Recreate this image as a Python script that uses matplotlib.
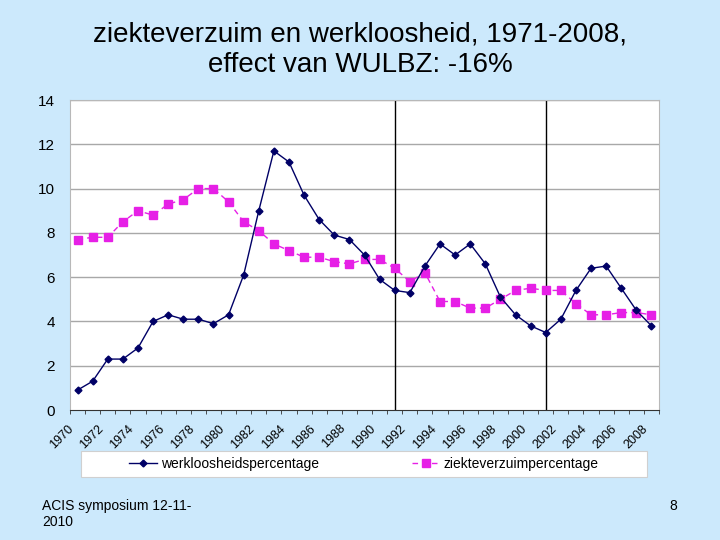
import matplotlib
matplotlib.use("Agg")
import matplotlib.pyplot as plt
from matplotlib.patches import Rectangle
from matplotlib.transforms import ScaledTranslation

plt.rcParams['font.family'] = ['Liberation Sans', 'DejaVu Sans']

#data (1970-2008)
years = list(range(1970, 2009))
werkloosheid = [0.9, 1.3, 2.3, 2.3, 2.8, 4.0, 4.3, 4.1, 4.1, 3.9,
                4.3, 6.1, 9.0, 11.7, 11.2, 9.7, 8.6, 7.9, 7.7, 7.0,
                5.9, 5.4, 5.3, 6.5, 7.5, 7.0, 7.5, 6.6, 5.1, 4.3,
                3.8, 3.5, 4.1, 5.4, 6.4, 6.5, 5.5, 4.5, 3.8]
ziekteverzuim = [7.7, 7.8, 7.8, 8.5, 9.0, 8.8, 9.3, 9.5, 10.0, 10.0,
                 9.4, 8.5, 8.1, 7.5, 7.2, 6.9, 6.9, 6.7, 6.6, 6.8,
                 6.8, 6.4, 5.8, 6.2, 4.9, 4.9, 4.6, 4.6, 5.0, 5.4,
                 5.5, 5.4, 5.4, 4.8, 4.3, 4.3, 4.4, 4.4, 4.3]
marker_years = [1991, 2001]
tick_years = list(range(1970, 2009, 2))

bg = "#cce9fc"
fig = plt.figure(figsize=(7.2, 5.4), dpi=100, facecolor=bg)
ax = fig.add_axes([70/720, 1-410/540, 589/720, 310/540])
ax.set_facecolor("white")

#grid and vertical marker lines
for y in range(2, 15, 2):
    ax.axhline(y, color="#a8a8a8", lw=1, zorder=1)
for yr in marker_years:
    ax.axvline(yr, color="black", lw=1, zorder=2)

ax.plot(years, werkloosheid, color="#000066", lw=1, marker="D",
        markersize=3.5, label="werkloosheidspercentage", zorder=4)
ax.plot(years, ziekteverzuim, color="#e620e6", lw=1, ls=(0, (4, 3)),
        marker="s", markersize=5.5, label="ziekteverzuimpercentage", zorder=3)

ax.set_xlim(1969.5, 2008.45)
ax.set_ylim(0, 14)
ax.set_yticks(range(0, 15, 2))
ax.tick_params(axis="y", length=0, pad=11, labelsize=11)
ax.set_xticks(tick_years)
ax.set_xticklabels([str(t) for t in tick_years], rotation=45, ha="right",
                   rotation_mode="anchor", fontsize=9)
ax.tick_params(axis="x", length=0, pad=9)
#excel puts the labels a little left of the category
shift = ScaledTranslation(-10/100, 0, fig.dpi_scale_trans)
for lbl in ax.get_xticklabels():
    lbl.set_transform(lbl.get_transform() + shift)
ax.set_xticks([y + 0.5 for y in range(1969, 2009)], minor=True)
ax.tick_params(axis="x", which="minor", length=3, color="#333333")

for side in ["top", "right", "left"]:
    ax.spines[side].set_color("#b8b8b8")
ax.spines["bottom"].set_color("#333333")

#legend box
fig.patches.append(Rectangle((81/720, 1-477/540), 566/720, 26/540,
                             transform=fig.transFigure, facecolor="white",
                             edgecolor="#d0d0d0", lw=0.8, zorder=-1))
handles, labels = ax.get_legend_handles_labels()
fig.legend(handles, labels, loc="center", bbox_to_anchor=(364/720, 1-464/540),
           ncol=2, frameon=False, fontsize=10, columnspacing=6.7,
           handlelength=2.0, handletextpad=0.3)

fig.text(0.5, 1-50/540, "ziekteverzuim en werkloosheid, 1971-2008,\neffect van WULBZ: -16%",
         ha="center", va="center", fontsize=20, linespacing=1.22)
fig.text(42/720, 1-514/540, "ACIS symposium 12-11-\n2010", ha="left", va="center",
         fontsize=10, linespacing=1.2)
fig.text(673/720, 1-506/540, "8", ha="center", va="center", fontsize=10)

fig.savefig("out.png", dpi=100, facecolor=bg)
